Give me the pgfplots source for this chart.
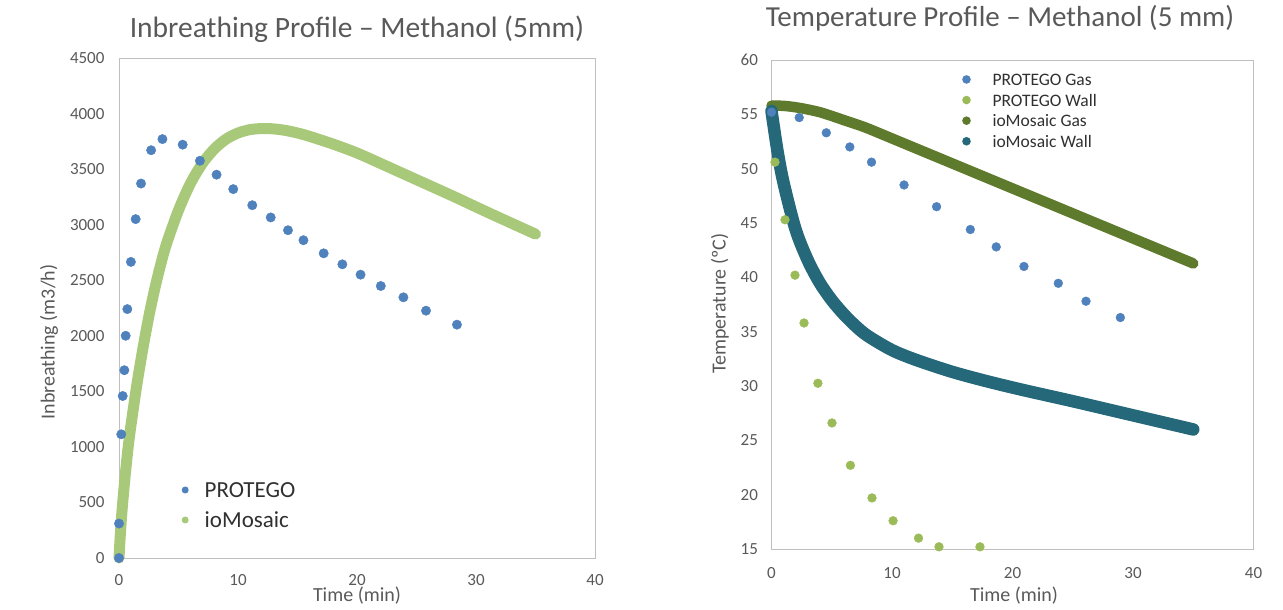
\documentclass[border=0pt]{standalone}
\usepackage{fontspec}
\setmainfont{Carlito}
\usepackage{pgfplots}
\pgfplotsset{compat=1.18}
\definecolor{labgray}{HTML}{595959}
\definecolor{axgray}{HTML}{BFBFBF}
\definecolor{legtext}{HTML}{303030}
\definecolor{pblue}{HTML}{4F81BD}
\definecolor{lgreen}{HTML}{9BBB59}
\definecolor{iogreen}{HTML}{A9C97A}
\definecolor{olive}{HTML}{5E7A2C}
\definecolor{teal2}{HTML}{24687A}
\pgfplotsset{
  mystyle/.style={
    anchor=south west, scale only axis, clip=false,
    axis line style={draw=axgray, line width=0.9pt},
    major tick length=0pt,
    tick label style={font=\fontsize{17}{20}\selectfont, text=labgray},
    /pgf/number format/1000 sep={},
    /pgf/number format/assume math mode=true,
    legend cell align=left,
  },
}
\begin{document}
\begin{tikzpicture}[x=1pt,y=1pt]
\path (0,0) rectangle (1283,610);
% ---------------- left chart ----------------
\begin{axis}[mystyle,
  at={(119pt,52pt)}, width=476pt, height=500pt,
  xmin=0, xmax=40, ymin=0, ymax=4500,
  xtick={0,10,20,30,40}, ytick={0,500,...,4500},
  yticklabel style={xshift=-11pt},
  xticklabel style={yshift=-13pt},
  legend style={draw=none, fill=none, at={(0.125,0.106)}, anchor=west,
    font=\fontsize{23}{26}\selectfont, text=legtext, column sep=16pt,
    nodes={inner sep=0pt, text height=15pt, text depth=0pt, minimum height=30pt}},
]
\addplot[only marks, mark=*, mark size=4.7pt, pblue, mark options={draw=none, fill=pblue},
  legend image code/.code={\path[fill=pblue, draw=none] (0,0) circle (3.5pt);}]
coordinates {
(0,0) (0,310) (0.19,1113) (0.31,1458) (0.45,1690) (0.56,2000) (0.7,2240)
(1.0,2665) (1.4,3050) (1.85,3370) (2.7,3670) (3.65,3770) (5.35,3720)
(6.8,3575) (8.2,3450) (9.6,3320) (11.2,3175) (12.75,3065) (14.2,2950)
(15.5,2860) (17.2,2742) (18.77,2643) (20.3,2550) (22.0,2448) (23.9,2346)
(25.8,2226) (28.4,2100)
};
\addlegendentry{PROTEGO}
\addplot[iogreen, line width=11pt, line cap=round, line join=round, smooth,
  legend image code/.code={\path[fill=iogreen, draw=none] (0,0) circle (3.5pt);}]
coordinates {
(0,0) (0.1,190) (0.25,420) (0.5,720) (0.75,980) (1,1190) (1.5,1560) (2,1880) (2.5,2170)
(3,2420) (3.5,2640) (4,2830) (5,3130) (6,3370) (7,3550) (8,3680) (9,3770)
(10,3825) (11,3855) (12,3865) (13,3862) (14,3848) (15,3825) (16,3795)
(18,3725) (20,3645) (22,3550) (25,3405) (28,3260) (31,3110) (35,2915)
};
\addlegendentry{ioMosaic}
\end{axis}
\node[anchor=base, font=\fontsize{29.5}{33}\selectfont, text=labgray] at (357,572) {Inbreathing Profile – Methanol (5mm)};
\node[anchor=base, font=\fontsize{20}{24}\selectfont, text=labgray] at (357,8) {Time (min)};
\node[rotate=90, font=\fontsize{20}{24}\selectfont, text=labgray] at (49,268) {Inbreathing (m3/h)};
% ---------------- right chart ----------------
\begin{axis}[mystyle,
  at={(771.5pt,61pt)}, width=482pt, height=489pt,
  xmin=0, xmax=40, ymin=15, ymax=60,
  xtick={0,10,20,30,40}, ytick={15,20,...,60},
  yticklabel style={xshift=-10pt},
  xticklabel style={yshift=-15pt},
  legend style={draw=none, fill=none, at={(0.389,0.897)}, anchor=west,
    font=\fontsize{17.5}{20}\selectfont, text=legtext, column sep=21.7pt,
    nodes={inner sep=0pt, text height=12pt, text depth=0pt, minimum height=20.6pt}},
]
\addplot[only marks, mark=*, mark size=4.4pt, pblue, mark options={draw=none, fill=pblue},
  legend image code/.code={\path[fill=pblue, draw=none] (0,0) circle (4.3pt);}]
coordinates {
(0,55.2) (2.3,54.7) (4.55,53.3) (6.5,52.0) (8.3,50.6) (11.0,48.5) (13.7,46.5)
(16.5,44.4) (18.65,42.8) (20.95,41.0) (23.8,39.45) (26.1,37.8) (28.95,36.3)
};
\addlegendentry{PROTEGO Gas}
\addplot[only marks, mark=*, mark size=4.4pt, lgreen, mark options={draw=none, fill=lgreen},
  legend image code/.code={\path[fill=lgreen, draw=none] (0,0) circle (4.3pt);}]
coordinates {
(0.29,50.6) (1.12,45.3) (1.95,40.2) (2.7,35.8) (3.85,30.25) (5.02,26.6)
(6.55,22.7) (8.34,19.7) (10.09,17.6) (12.2,16.0) (13.9,15.2) (17.3,15.2)
};
\addlegendentry{PROTEGO Wall}
\addplot[olive, line width=10.5pt, line cap=round, line join=round, smooth,
  legend image code/.code={\path[fill=olive, draw=none] (0,0) circle (4.3pt);}]
coordinates {
(0,55.8) (1,55.78) (2,55.65) (3,55.45) (4,55.2) (5,54.85) (6,54.47) (7,54.1)
(8,53.7) (10,52.78) (12,51.86) (14,50.94) (16,50.02) (18,49.1) (20,48.18)
(22,47.26) (24,46.34) (26,45.42) (28,44.5) (30,43.58) (32,42.66) (35,41.28)
};
\addlegendentry{ioMosaic Gas}
\addplot[teal2, line width=12.5pt, line cap=round, line join=round, smooth,
  legend image code/.code={\path[fill=teal2, draw=none] (0,0) circle (4.3pt);}]
coordinates {
(0,55.3) (0.5,51.6) (1,48.7) (2,44.4) (3,41.6) (4,39.5) (5,37.9) (6,36.6)
(7,35.5) (8,34.6) (10,33.3) (12,32.4) (15,31.3) (18,30.4) (21,29.6)
(25,28.6) (30,27.3) (35,26.0)
};
\addlegendentry{ioMosaic Wall}
\end{axis}
\node[anchor=base, font=\fontsize{29}{33}\selectfont, text=labgray] at (1000,583) {Temperature Profile – Methanol (5 mm)};
\node[anchor=base, font=\fontsize{20}{24}\selectfont, text=labgray] at (1014,8) {Time (min)};
\node[rotate=90, font=\fontsize{20}{24}\selectfont, text=labgray] at (720,306.5) {Temperature (ºC)};
\end{tikzpicture}
\end{document}
